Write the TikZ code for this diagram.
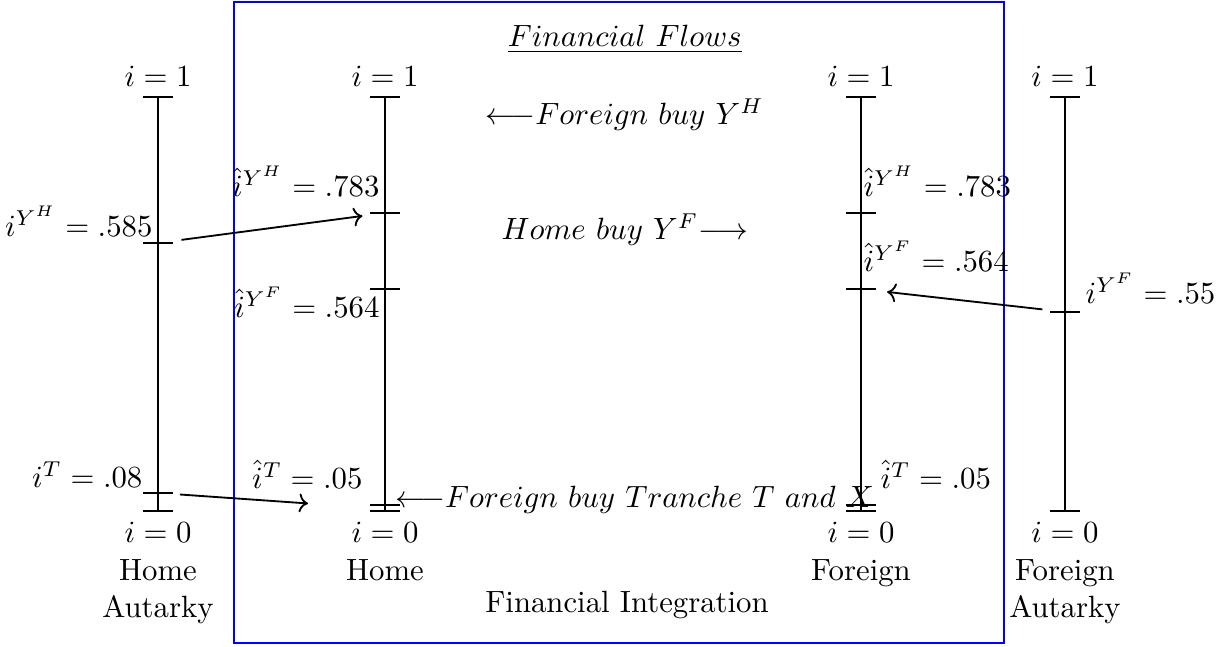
\documentclass[tikz,border=0pt]{standalone}
\usepackage{amsmath}
\usepackage{tikz}
\usetikzlibrary{arrows.meta, positioning}

\begin{document}
\begin{tikzpicture}[
			axis/.style={semithick},
			tickline/.style={thin},
			flow/.style={->, semithick},
			ticklabel/.style={inner sep=0pt},
			market/.style={align=center, inner sep=0pt}
		]
		\useasboundingbox (0,0) rectangle (14,7.394);
		% Integration box
		\draw[blue] (2.674,0.046) rectangle (11.474,7.371);
		\node[anchor=base] (flows) at (7.14,6.857) {$\underline{Financial\ Flows}$};
		
		% Four unit intervals
		\foreach \x/\nm in {1.806/ha, 4.4/h, 9.84/f, 12.171/fa} {
			\coordinate (\nm-top) at (\x,6.286);
			\coordinate (\nm-bot) at (\x,1.554);
			\draw[axis] (\nm-top) -- (\nm-bot);
			\draw[tickline] ([xshift=-0.17cm]\nm-top) -- ([xshift=0.17cm]\nm-top);
			\draw[tickline] ([xshift=-0.17cm]\nm-bot) -- ([xshift=0.17cm]\nm-bot);
			\node[above] (\nm-one) at (\nm-top) {$i=1$};
			\node[below] (\nm-zero) at (\nm-bot) {$i=0$};
		}
		
		% Thresholds
		\coordinate (ha-yh) at (1.806,4.617);
		\coordinate (ha-t) at (1.806,1.760);
		\coordinate (h-yh) at (4.4,4.960);
		\coordinate (h-yf) at (4.4,4.091);
		\coordinate (h-t) at (4.4,1.623);
		\coordinate (f-yh) at (9.84,4.960);
		\coordinate (f-yf) at (9.84,4.091);
		\coordinate (f-t) at (9.84,1.623);
		\coordinate (fa-yf) at (12.171,3.829);
		\foreach \c in {ha-yh, ha-t, h-yh, h-yf, h-t, f-yh, f-yf, f-t, fa-yf}
			\draw[tickline] ([xshift=-0.17cm]\c) -- ([xshift=0.17cm]\c);
		
		\node[ticklabel, anchor=base east] (ha-yh-lab) at (1.749,4.686) {$i^{Y^H}=.585$};
		\node[ticklabel, anchor=base east] (ha-t-lab) at (1.634,1.817) {$i^{T}=.08$};
		\node[ticklabel, anchor=base east] (h-yh-lab) at (4.343,5.143) {$\hat{i}^{Y^H}=.783$};
		\node[ticklabel, anchor=base east] (h-yf-lab) at (4.343,3.760) {$\hat{i}^{Y^F}=.564$};
		\node[ticklabel, anchor=base east] (h-t-lab) at (4.149,1.806) {$\hat{i}^{T}=.05$};
		\node[ticklabel, anchor=base west] (f-yh-lab) at (9.863,5.143) {$\hat{i}^{Y^H}=.783$};
		\node[ticklabel, anchor=base west] (f-yf-lab) at (9.863,4.286) {$\hat{i}^{Y^F}=.564$};
		\node[ticklabel, anchor=base west] (f-t-lab) at (10.057,1.806) {$\hat{i}^{T}=.05$};
		\node[ticklabel, anchor=base west] (fa-yf-lab) at (12.4,3.920) {$i^{Y^F}=.55$};
		
		% Flow texts
		\node[anchor=base] (buy-yh) at (7.14,5.966) {${\longleftarrow}Foreign\ buy\ Y^H$};
		\node[anchor=base] (buy-yf) at (7.14,4.651) {$Home\ buy\ Y^F{\longrightarrow}$};
		\node[ticklabel, anchor=base west] (buy-t) at (4.514,1.589) {${\longleftarrow}Foreign\ buy\ Tranche\ T\ and\ X$};
		
		% Market names
		\node[market, below=2pt of ha-zero] (ha-name) {Home\\Autarky};
		\node[market, below=2pt of h-zero] (h-name) {Home};
		\node[market, below=2pt of f-zero] (f-name) {Foreign};
		\node[market, below=2pt of fa-zero] (fa-name) {Foreign\\Autarky};
		\node[anchor=base] (integration) at (7.166,0.389) {Financial Integration};
		
		% Moves from autarky
		\coordinate (t-end) at (3.52,1.64);
		\draw[flow, shorten <=0.27cm, shorten >=0.26cm] (ha-yh) -- (h-yh);
		\draw[flow, shorten <=0.25cm] (ha-t) -- (t-end);
		\draw[flow, shorten <=0.26cm, shorten >=0.3cm] (fa-yf) -- (f-yf);
		\end{tikzpicture}
\end{document}
